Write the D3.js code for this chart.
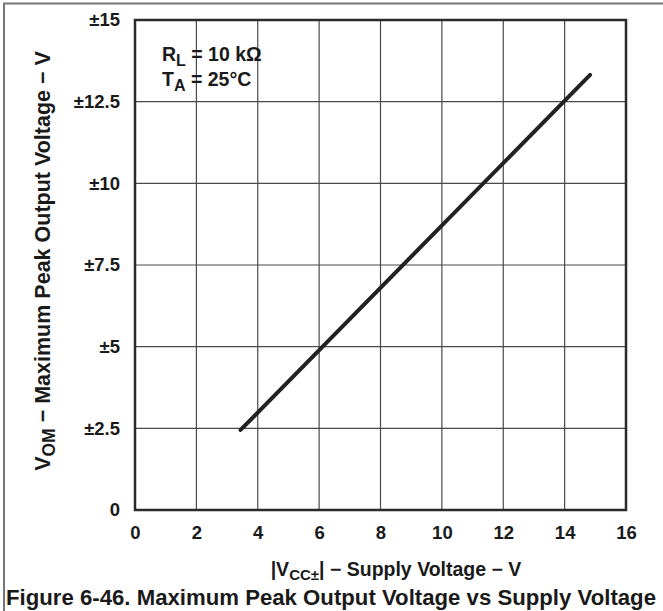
<!DOCTYPE html>
<html>
<head>
  <meta charset="utf-8">
  <title>Maximum Peak Output Voltage vs Supply Voltage</title>
  <style>
  body { margin: 0; background: #fff; }
  text {
    font-family: "Liberation Sans", Arial, sans-serif;
    font-weight: bold;
    fill: #1a1a1a;
  }
  .tick-label { font-size: 18.5px; }
  </style>
</head>
<body>
  <div id="chart"></div>
  <script src="https://cdn.jsdelivr.net/npm/d3@7"></script>
  <script>
  // data
  var xTicks = [0, 2, 4, 6, 8, 10, 12, 14, 16];
  var yTicks = [0, 2.5, 5, 7.5, 10, 12.5, 15];
  var yTickLabels = ["0", "±2.5", "±5", "±7.5", "±10", "±12.5", "±15"];
  var supplyV = [3.44, 14.83];
  var outputV = [2.45, 13.32];

  var width = 663, height = 611;
  var plot = {left: 135, right: 626, top: 20, bottom: 510};

  var svg = d3.select("#chart")
    .append("svg")
    .attr("width", width)
    .attr("height", height);

  // outer figure border (top and left only)
  svg.append("path")
    .attr("d", "M4,611 V3.5 H663")
    .attr("fill", "none")
    .attr("stroke", "#777")
    .attr("stroke-width", 2);

  var x = d3.scaleLinear().domain([0, 16]).range([plot.left, plot.right]);
  var y = d3.scaleLinear().domain([0, 15]).range([plot.bottom, plot.top]);

  // grid
  svg.append("g")
    .selectAll("line")
    .data(xTicks.slice(1, -1))
    .enter().append("line")
    .attr("x1", function(d) { return x(d); })
    .attr("x2", function(d) { return x(d); })
    .attr("y1", plot.top)
    .attr("y2", plot.bottom)
    .attr("stroke", "#4a4a4a")
    .attr("stroke-width", 1.2);

  svg.append("g")
    .selectAll("line")
    .data(yTicks.slice(1, -1))
    .enter().append("line")
    .attr("x1", plot.left)
    .attr("x2", plot.right)
    .attr("y1", function(d) { return y(d); })
    .attr("y2", function(d) { return y(d); })
    .attr("stroke", "#4a4a4a")
    .attr("stroke-width", 1.2);

  // frame
  svg.append("rect")
    .attr("x", plot.left)
    .attr("y", plot.top)
    .attr("width", plot.right - plot.left)
    .attr("height", plot.bottom - plot.top)
    .attr("fill", "none")
    .attr("stroke", "#2a2a2a")
    .attr("stroke-width", 2.5);

  // x axis labels
  var xAxis = d3.axisBottom(x).tickValues(xTicks).tickSize(0).tickPadding(16);
  var gx = svg.append("g")
    .attr("transform", "translate(0," + plot.bottom + ")")
    .call(xAxis);
  gx.select(".domain").remove();

  // y axis labels
  var yAxis = d3.axisLeft(y).tickValues(yTicks).tickSize(0).tickPadding(15)
    .tickFormat(function(d, i) { return yTickLabels[i]; });
  var gy = svg.append("g")
    .attr("transform", "translate(" + plot.left + ",0)")
    .call(yAxis);
  gy.select(".domain").remove();

  svg.selectAll(".tick text")
    .attr("class", "tick-label")
    .attr("fill", "#1a1a1a");
  gx.attr("font-family", null).attr("font-size", null);
  gy.attr("font-family", null).attr("font-size", null);

  // data line
  var pts = supplyV.map(function(v, i) { return [v, outputV[i]]; });
  svg.append("path")
    .datum(pts)
    .attr("d", d3.line().x(function(d) { return x(d[0]); }).y(function(d) { return y(d[1]); }))
    .attr("fill", "none")
    .attr("stroke", "#222")
    .attr("stroke-width", 4)
    .attr("stroke-linecap", "round");

  // annotation
  var note = svg.append("g").attr("font-size", 19.5);
  var t1 = note.append("text").attr("x", 162).attr("y", 61);
  t1.append("tspan").text("R");
  t1.append("tspan").attr("dy", 5).attr("font-size", 16).text("L");
  t1.append("tspan").attr("dy", -5).text(" = 10 kΩ");
  var t2 = note.append("text").attr("x", 162).attr("y", 86);
  t2.append("tspan").text("T");
  t2.append("tspan").attr("dy", 5).attr("font-size", 16).text("A");
  t2.append("tspan").attr("dy", -5).text(" = 25°C");

  // x axis title
  var xt = svg.append("text")
    .attr("x", 396).attr("y", 576)
    .attr("text-anchor", "middle")
    .attr("font-size", 19.5);
  xt.append("tspan").text("|V");
  xt.append("tspan").attr("dy", 4).attr("font-size", 15).text("CC±");
  xt.append("tspan").attr("dy", -4).text("| − Supply Voltage − V");

  // y axis title
  var yt = svg.append("text")
    .attr("transform", "translate(50,261) rotate(-90)")
    .attr("text-anchor", "middle")
    .attr("font-size", 21.5);
  yt.append("tspan").text("V");
  yt.append("tspan").attr("dy", 5).attr("font-size", 17.5).text("OM");
  yt.append("tspan").attr("dy", -5).text(" − Maximum Peak Output Voltage − V");

  // caption
  svg.append("text")
    .attr("x", 331).attr("y", 605)
    .attr("text-anchor", "middle")
    .attr("font-size", 22)
    .attr("textLength", 650)
    .attr("lengthAdjust", "spacingAndGlyphs")
    .text("Figure 6-46. Maximum Peak Output Voltage vs Supply Voltage");
  </script>
</body>
</html>
